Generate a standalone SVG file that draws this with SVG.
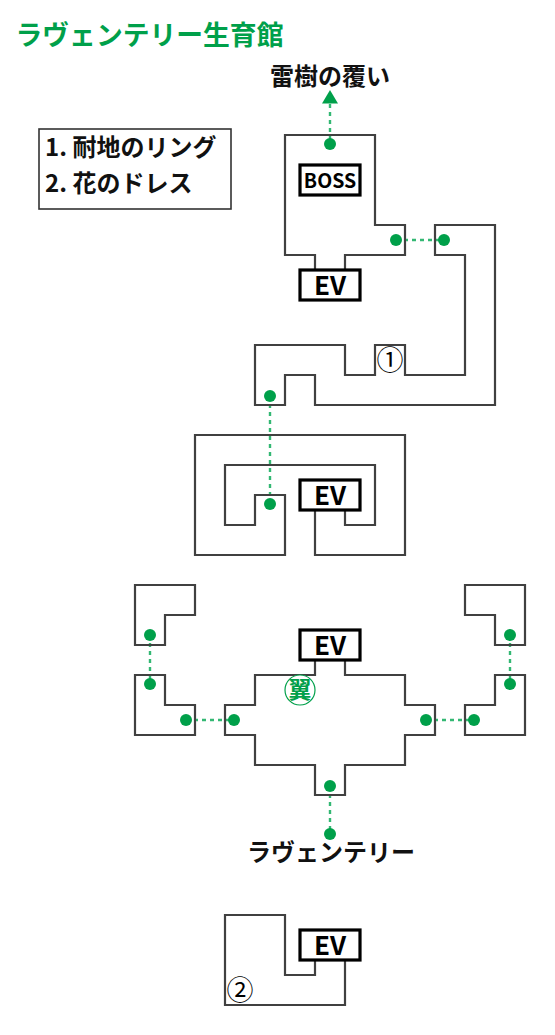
<svg xmlns="http://www.w3.org/2000/svg" width="555" height="1035" viewBox="0 0 555 1035">
<style>
.room{fill:none;stroke:#404040;stroke-width:2.2;stroke-linejoin:miter}
.box{fill:#fff;stroke:#000;stroke-width:3.2}
.link{fill:none;stroke:#00a650;stroke-width:2.4;stroke-dasharray:4 4;opacity:.8}
.dot{fill:#00a04a}
text{font-family:"Noto Sans CJK JP","Noto Sans",sans-serif;fill:#111}
.ev{font-size:26px;font-weight:700;text-anchor:middle;fill:#000}
.lab{font-size:24px;font-weight:700}
.num{font-size:27px;text-anchor:middle;fill:#000}
</style>
<rect width="555" height="1035" fill="#fff"/>
<text id="title" x="15.500" y="45" font-size="26.800" font-weight="700" style="fill:#00a04a">ラヴェンテリー生育館</text>
<g id="legend">
<rect x="39" y="129" width="192" height="80" fill="#fff" stroke="#333" stroke-width="1.600"/>
<text class="lab" x="45" y="156">1. 耐地のリング</text>
<text class="lab" x="45" y="192">2. 花のドレス</text>
</g>
<g id="connectors">
<path class="link" d="M330 104V144"/>
<path class="link" d="M396 240H444"/>
<path class="link" d="M270 396V504"/>
<path class="link" d="M150 635V684"/>
<path class="link" d="M186 720H234"/>
<path class="link" d="M426 720H474"/>
<path class="link" d="M510 635V684"/>
<path class="link" d="M330 786V834"/>
</g>
<g id="room-boss">
<path class="room" d="M315 270V255H285V135H375V225H405V255H345V270"/>
<g id="boss"><rect class="box" x="300" y="165" width="60" height="30"/><text x="330" y="187.500" font-size="19.500" font-weight="700" text-anchor="middle" style="fill:#000">BOSS</text></g>
<g id="ev1"><rect class="box" x="300" y="270" width="60" height="30"/><text class="ev" x="330" y="294.500">EV</text></g>
</g>
<g id="room-corridor">
<path class="room" d="M435 225H495V405H315V375H285V405H255V345H345V375H375V345H405V375H465V255H435Z"/>
<text class="num" x="390" y="370">①</text>
</g>
<g id="room-spiral">
<path class="room" d="M315 510V555H405V435H195V555H285V495H255V525H225V465H375V525H345V510"/>
<g id="ev2"><rect class="box" x="300" y="480" width="60" height="30"/><text class="ev" x="330" y="504.500">EV</text></g>
</g>
<g id="room-nw1"><path class="room" d="M135 585H195V615H165V645H135Z"/></g>
<g id="room-nw2"><path class="room" d="M135 675H165V705H195V735H135Z"/></g>
<g id="room-ne1"><path class="room" d="M465 585H525V645H495V615H465Z"/></g>
<g id="room-ne2"><path class="room" d="M495 675H525V735H465V705H495Z"/></g>
<g id="room-center">
<path class="room" d="M315 660V675H255V705H225V735H255V765H315V795H345V765H405V735H435V705H405V675H345V660"/>
<g id="ev3"><rect class="box" x="300" y="630" width="60" height="30"/><text class="ev" x="330" y="654.500">EV</text></g>
<g id="wing"><circle cx="300" cy="690" r="15" fill="#fff" stroke="#00a04a" stroke-width="1.200"/><text x="300" y="698" font-size="23" font-weight="700" text-anchor="middle" style="fill:#00a04a">翼</text></g>
</g>
<g id="room-last">
<path class="room" d="M315 960V975H285V915H225V1005H345V960"/>
<g id="ev4"><rect class="box" x="300" y="930" width="60" height="30"/><text class="ev" x="330" y="954.500">EV</text></g>
<text class="num" x="240" y="1000">②</text>
</g>
<g id="markers">
<path class="dot" d="M322 103.500L330 90L338 103.500Z"/>
<circle class="dot" cx="330" cy="144" r="6"/>
<circle class="dot" cx="396" cy="240" r="6"/>
<circle class="dot" cx="444" cy="240" r="6"/>
<circle class="dot" cx="270" cy="396" r="6"/>
<circle class="dot" cx="270" cy="504" r="6"/>
<circle class="dot" cx="150" cy="635" r="6"/>
<circle class="dot" cx="150" cy="684" r="6"/>
<circle class="dot" cx="186" cy="720" r="6"/>
<circle class="dot" cx="234" cy="720" r="6"/>
<circle class="dot" cx="426" cy="720" r="6"/>
<circle class="dot" cx="474" cy="720" r="6"/>
<circle class="dot" cx="510" cy="635" r="6"/>
<circle class="dot" cx="510" cy="684" r="6"/>
<circle class="dot" cx="330" cy="786" r="6"/>
<circle class="dot" cx="330" cy="834" r="6"/>
</g>
<text id="top-label" class="lab" x="330" y="85" text-anchor="middle">雷樹の覆い</text>
<text id="bottom-label" class="lab" x="331" y="861" text-anchor="middle">ラヴェンテリー</text>
</svg>
